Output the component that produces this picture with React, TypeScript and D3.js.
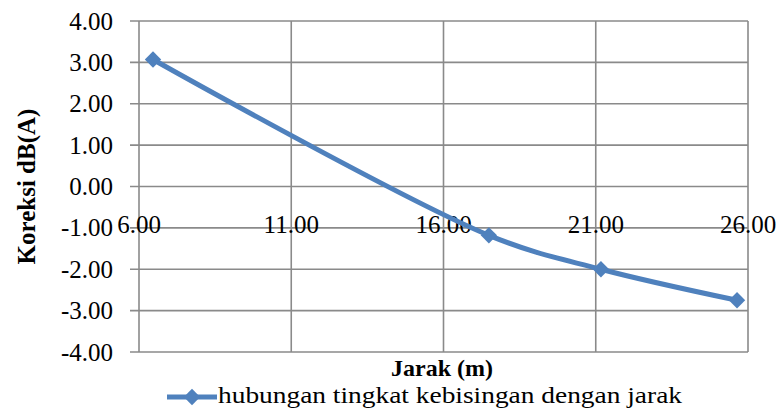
import React, { useEffect, useRef } from 'react';
import * as d3 from 'd3';

const distances = [6.46, 17.49, 21.17, 25.64];
const corrections = [3.07, -1.18, -2.0, -2.75];
const xTicks = [6, 11, 16, 21, 26];
const yTicks = [4, 3, 2, 1, 0, -1, -2, -3, -4];
const seriesName = 'hubungan tingkat kebisingan dengan jarak';

function App() {
  const svgRef = useRef<SVGSVGElement>(null);

  useEffect(() => {
    if (!svgRef.current) return;
    const width = 778;
    const height = 411;
    const font = 'Liberation Serif, Times New Roman, serif';
    const fmt = (v: number) => v.toFixed(2);

    d3.select(svgRef.current).selectAll('*').remove();
    const svg = d3.select(svgRef.current)
      .attr('width', width)
      .attr('height', height)
      .style('display', 'block')
      .style('background', '#fff');

    const x = d3.scaleLinear().domain([6, 26]).range([139, 748]);
    const y = d3.scaleLinear().domain([-4, 4]).range([352, 21]);

    const grid = svg.append('g');
    // horizontal gridlines + small ticks left of the axis
    yTicks.forEach(t => {
      grid.append('line')
        .attr('x1', 130).attr('x2', x(26))
        .attr('y1', y(t)).attr('y2', y(t))
        .attr('stroke', '#8a8a8a').attr('stroke-width', 1.6);
    });
    xTicks.forEach(t => {
      grid.append('line')
        .attr('x1', x(t)).attr('x2', x(t))
        .attr('y1', y(4)).attr('y2', y(-4))
        .attr('stroke', '#8a8a8a').attr('stroke-width', 1.6);
    });

    // y tick labels
    svg.append('g').selectAll('text').data(yTicks).join('text')
      .attr('x', 113)
      .attr('y', d => y(d))
      .attr('dy', '0.34em')
      .attr('text-anchor', 'end')
      .attr('font-family', font)
      .attr('font-size', 25)
      .attr('fill', '#000')
      .text(d => fmt(d));

    // x tick labels sit on the y = -1 line
    svg.append('g').selectAll('text').data(xTicks).join('text')
      .attr('x', d => x(d))
      .attr('y', 233)
      .attr('text-anchor', 'middle')
      .attr('font-family', font)
      .attr('font-size', 25)
      .attr('fill', '#000')
      .text(d => fmt(d));

    const points = distances.map((d, i) => [d, corrections[i]] as [number, number]);
    const line = d3.line<[number, number]>()
      .x(d => x(d[0]))
      .y(d => y(d[1]))
      .curve(d3.curveCatmullRom.alpha(0.5));

    const blue = '#4f81bd';
    svg.append('path')
      .attr('d', line(points))
      .attr('fill', 'none')
      .attr('stroke', blue)
      .attr('stroke-width', 5)
      .attr('stroke-linejoin', 'round');

    const diamond = d3.symbol().type(d3.symbolDiamond2).size(170);
    svg.append('g').selectAll('path').data(points).join('path')
      .attr('transform', d => `translate(${x(d[0])},${y(d[1])})`)
      .attr('d', diamond)
      .attr('fill', blue);

    // axis titles
    svg.append('text')
      .attr('transform', `translate(35, ${y(0)}) rotate(-90)`)
      .attr('text-anchor', 'middle')
      .attr('font-family', font)
      .attr('font-size', 25)
      .attr('font-weight', 'bold')
      .text('Koreksi dB(A)');

    svg.append('text')
      .attr('x', 442)
      .attr('y', 376)
      .attr('text-anchor', 'middle')
      .attr('font-family', font)
      .attr('font-size', 24)
      .attr('font-weight', 'bold')
      .text('Jarak (m)');

    // legend
    const legend = svg.append('g').attr('transform', 'translate(167, 397)');
    legend.append('line')
      .attr('x1', 0).attr('x2', 50)
      .attr('y1', 0).attr('y2', 0)
      .attr('stroke', blue).attr('stroke-width', 5);
    legend.append('path')
      .attr('transform', 'translate(25,0)')
      .attr('d', diamond)
      .attr('fill', blue);
    legend.append('text')
      .attr('x', 51)
      .attr('y', 6)
      .attr('font-family', font)
      .attr('font-size', 24)
      .attr('textLength', 464)
      .attr('lengthAdjust', 'spacingAndGlyphs')
      .text(seriesName);
  }, []);

  return (
    <div style={{ position: 'fixed', left: 0, top: 0 }}>
      <svg ref={svgRef}></svg>
    </div>
  );
}

export default App;
